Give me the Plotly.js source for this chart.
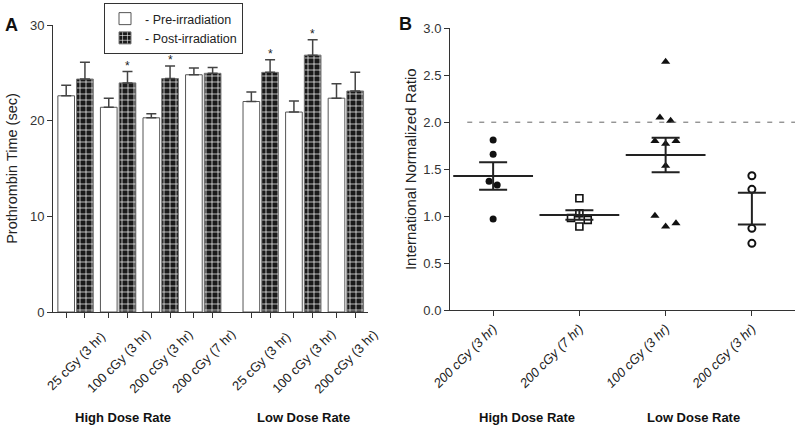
<!DOCTYPE html>
<html>
<head>
<meta charset="utf-8">
<script src="https://cdn.plot.ly/plotly-3.0.1.min.js"></script>
<style>html,body{margin:0;padding:0;background:#fff;}#chart{width:800px;height:429px;}</style>
</head>
<body>
<div id="chart"></div>
<script>
// ---------- Panel A data ----------
const groupsA = ["25 cGy (3 hr)", "100 cGy (3 hr)", "200 cGy (3 hr)", "200 cGy (7 hr)", "25 cGy (3 hr)", "100 cGy (3 hr)", "200 cGy (3 hr)"];
const preValues = [22.6, 21.4, 20.3, 24.8, 22.0, 20.9, 22.35];
const preErr = [1.1, 0.95, 0.42, 0.7, 1.0, 1.15, 1.5];
const postValues = [24.35, 23.95, 24.4, 24.95, 25.05, 26.85, 23.1];
const postErr = [1.75, 1.18, 1.32, 0.62, 1.32, 1.6, 1.95];
const significant = [false, true, true, false, true, true, false];
const rateLabels = ["High Dose Rate", "Low Dose Rate"];

// ---------- Panel B data ----------
const groupsB = ["200 cGy (3 hr)", "200 cGy (7 hr)", "100 cGy (3 hr)", "200 cGy (3 hr)"];
const inrHDR200_3 = [1.81, 1.66, 1.37, 1.33, 0.97];
const inrHDR200_7 = [1.19, 1.03, 0.98, 0.96, 0.89];
const inrLDR100_3 = [2.645, 2.05, 2.015, 1.80, 1.77, 1.80, 1.535, 1.005, 0.89, 0.925];
const inrLDR200_3 = [1.43, 1.285, 0.87, 0.71];
const inrMean = [1.427, 1.012, 1.651, 1.08];
const inrSem = [0.146, 0.05, 0.183, 0.17];
const inrThreshold = 2.0;

// ---------- layout helpers (positions) ----------
const posA = [0, 1, 2, 3, 4.35, 5.35, 6.35];
const jitter1 = [0, 0, -0.047, 0.047, 0];
const jitter2 = [0, 0, -0.097, 0.097, 0];
const jitter3 = [0, -0.066, 0.058, -0.124, 0, 0.12, 0, -0.124, 0, 0.12];
const jitter4 = [0, 0, 0, 0];

const FONT = "Liberation Sans, Arial, sans-serif";
const INK = "#222";

const traces = [];
traces.push({
  type: "bar", x: posA, y: preValues, name: "- Pre-irradiation",
  marker: {color: "#ffffff", line: {color: "#555", width: 1}},
  error_y: {type: "data", symmetric: false, array: preErr, arrayminus: preErr.map(() => 0), color: "#444", thickness: 1.5, width: 5},
  xaxis: "x", yaxis: "y", hoverinfo: "skip"
});
traces.push({
  type: "bar", x: posA, y: postValues, name: "- Post-irradiation",
  marker: {color: "#1a1a1a", line: {color: "#777", width: 1},
    pattern: {shape: "+", fgcolor: "#ffffff", bgcolor: "#1a1a1a", size: 6, solidity: 0.22, fillmode: "replace"}},
  error_y: {type: "data", symmetric: false, array: postErr, arrayminus: postErr.map(() => 0), color: "#444", thickness: 1.5, width: 5},
  xaxis: "x", yaxis: "y", hoverinfo: "skip"
});

// Panel B scatter points
function pts(vals, idx, jit, marker) {
  return {type: "scatter", mode: "markers", x: vals.map((v, i) => idx + jit[i]), y: vals,
    marker: marker, showlegend: false, xaxis: "x2", yaxis: "y2", hoverinfo: "skip", cliponaxis: false};
}
traces.push(pts(inrHDR200_3, 0, jitter1, {symbol: "circle", size: 7, color: "#111"}));
traces.push(pts(inrHDR200_7, 1, jitter2, {symbol: "square-open", size: 7, color: "#111", line: {width: 1.6}}));
traces.push(pts(inrLDR100_3, 2, jitter3, {symbol: "triangle-up", size: 8, color: "#111"}));
traces.push(pts(inrLDR200_3, 3, jitter4, {symbol: "circle-open", size: 7, color: "#111", line: {width: 2}}));
// mean +/- SEM
traces.push({
  type: "scatter", mode: "markers", x: [0, 1, 2, 3], y: inrMean,
  marker: {symbol: "line-ew", size: 57, color: INK, opacity: [1, 1, 1, 0], line: {color: INK, width: 2}},
  error_y: {type: "data", array: inrSem, color: INK, thickness: 2, width: 14},
  showlegend: false, xaxis: "x2", yaxis: "y2", hoverinfo: "skip", cliponaxis: false
});

const annotations = [];
// significance asterisks above post-irradiation error bars
significant.forEach((s, i) => {
  if (s) annotations.push({text: "*", x: posA[i] + 0.22, xref: "x", y: postValues[i] + postErr[i], yref: "y",
    showarrow: false, xanchor: "center", yanchor: "middle", yshift: 6, font: {family: FONT, size: 12, color: INK}});
});
groupsA.forEach((g, i) => annotations.push({
  text: g, x: posA[i], xref: "x", y: 1 - 361 / 429, yref: "paper", showarrow: false,
  textangle: -45, xanchor: "center", yanchor: "middle", font: {family: FONT, size: 13, color: INK}
}));
function lbl(text, px, py, size) {
  return {text: text, x: px / 800, y: 1 - py / 429, xref: "paper", yref: "paper", showarrow: false,
    xanchor: "center", yanchor: "middle", font: {family: FONT, size: size, color: "#111"}};
}
annotations.push(lbl("<b>" + rateLabels[0] + "</b>", 123, 417, 13));
annotations.push(lbl("<b>" + rateLabels[1] + "</b>", 303, 417, 13));
annotations.push(lbl("<b>" + rateLabels[0] + "</b>", 527, 417, 13));
annotations.push(lbl("<b>" + rateLabels[1] + "</b>", 693, 417, 13));
annotations.push(lbl("<b>A</b>", 11, 25, 18));
annotations.push(lbl("<b>B</b>", 406, 24, 18));

const tickPosA = [];
posA.forEach(p => { tickPosA.push(p - 0.22); tickPosA.push(p + 0.22); });

const axisCommon = {showgrid: false, zeroline: false, showline: true, linecolor: "#333", linewidth: 1,
  ticks: "outside", ticklen: 5, tickcolor: "#333", tickfont: {family: FONT, size: 13, color: "#333"}, fixedrange: true};

const layout = {
  width: 800, height: 429,
  margin: {l: 0, r: 0, t: 0, b: 0},
  paper_bgcolor: "#fff", plot_bgcolor: "#fff",
  font: {family: FONT, color: INK},
  barmode: "group", bargap: 0.12, bargroupgap: 0.11,
  showlegend: true,
  legend: {x: 104 / 800, y: 1 - 3 / 429, xanchor: "left", yanchor: "top", bordercolor: "#333", borderwidth: 1,
    bgcolor: "#fff", font: {family: FONT, size: 12.5, color: INK}, itemwidth: 30, tracegroupgap: 0},
  xaxis: Object.assign({}, axisCommon, {domain: [53 / 800, 368 / 800], range: [-0.53, 6.87],
    tickvals: tickPosA, showticklabels: false}),
  yaxis: Object.assign({}, axisCommon, {domain: [117 / 429, 404 / 429], range: [0, 30], tickvals: [0, 10, 20, 30],
    title: {text: "Prothrombin Time (sec)", font: {family: FONT, size: 14.5, color: INK}, standoff: 8}}),
  xaxis2: Object.assign({}, axisCommon, {domain: [450 / 800, 795 / 800], range: [-0.5, 3.5], anchor: "y2",
    tickvals: [0, 1, 2, 3], ticktext: groupsB, tickangle: -45,
    tickfont: {family: FONT, size: 13, color: INK, style: "italic"}}),
  yaxis2: Object.assign({}, axisCommon, {domain: [119 / 429, 400.7 / 429], range: [0, 3], anchor: "x2",
    tickvals: [0, 0.5, 1, 1.5, 2, 2.5, 3], tickformat: ".1f",
    title: {text: "International Normalized Ratio", font: {family: FONT, size: 15, color: INK}, standoff: 3}}),
  shapes: [{type: "line", xref: "x2", yref: "y2", x0: -0.3, x1: 3.5, y0: inrThreshold, y1: inrThreshold,
    line: {color: "#666", width: 1, dash: "5px,7px"}}],
  annotations: annotations
};

Plotly.newPlot("chart", traces, layout, {staticPlot: true, displayModeBar: false});
</script>
</body>
</html>
